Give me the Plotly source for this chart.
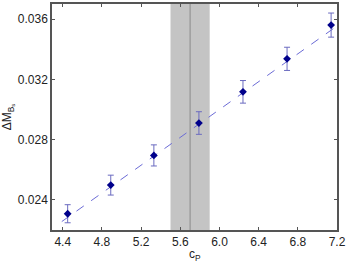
import plotly.graph_objects as go

cp = [4.45, 4.89, 5.33, 5.79, 6.24, 6.69, 7.14]
dm = [0.02308, 0.02498, 0.02695, 0.0291, 0.03117, 0.03336, 0.0356]
err = [0.0006, 0.00066, 0.0007, 0.00075, 0.00075, 0.00077, 0.0008]
fit_x = [4.39, 7.2]
fit_y = [0.02256, 0.03554]
band = [5.5, 5.9]
center = 5.7
xticks = [4.4, 4.8, 5.2, 5.6, 6.0, 6.4, 6.8, 7.2]
yticks = [0.024, 0.028, 0.032, 0.036]

fig = go.Figure()
fig.add_shape(type="rect", xref="x", yref="paper", x0=band[0], x1=band[1], y0=0, y1=1,
              fillcolor="#c4c4c4", line=dict(width=0), layer="below")
fig.add_shape(type="line", xref="x", yref="paper", x0=center, x1=center, y0=0, y1=1,
              line=dict(color="#8a8a8a", width=1), layer="below")
fig.add_trace(go.Scatter(x=fit_x, y=fit_y, mode="lines",
                         line=dict(color="#6b6bd6", width=1, dash="dash"), hoverinfo="skip"))
fig.add_trace(go.Scatter(x=cp, y=dm, mode="markers",
                         marker=dict(symbol="diamond", size=6, color="#00008b"),
                         error_y=dict(type="data", array=err, color="#6b6bc0", thickness=1, width=3)))

font = dict(family="Arial", size=12, color="#222222")
axis_common = dict(showline=True, linecolor="#555555", linewidth=1.5, mirror="ticks",
                   ticks="inside", ticklen=3, tickcolor="#555555", showgrid=False, zeroline=False,
                   tickfont=font)
fig.update_xaxes(range=[4.29, 7.2], tickvals=xticks, ticktext=[f"{v:.1f}" for v in xticks],
                 **axis_common)
fig.update_yaxes(range=[0.022, 0.037], tickvals=yticks, ticktext=[f"{v:.3f}" for v in yticks],
                 title=dict(text="ΔM<sub>B<sub>s</sub></sub>", standoff=5, font=font),
                 **axis_common)
fig.add_annotation(text="c<sub>P</sub>", xref="paper", yref="paper", x=0.5, y=0,
                   xanchor="center", yanchor="top", yshift=-15, showarrow=False, font=font)
fig.update_layout(width=348, height=264, margin=dict(l=52, r=11, t=2, b=34),
                  font=font,
                  plot_bgcolor="white", paper_bgcolor="white", showlegend=False)
fig.write_html("out.html", config={"displayModeBar": False},
               post_script="document.body.style.margin='0';document.body.style.overflow='hidden';")
